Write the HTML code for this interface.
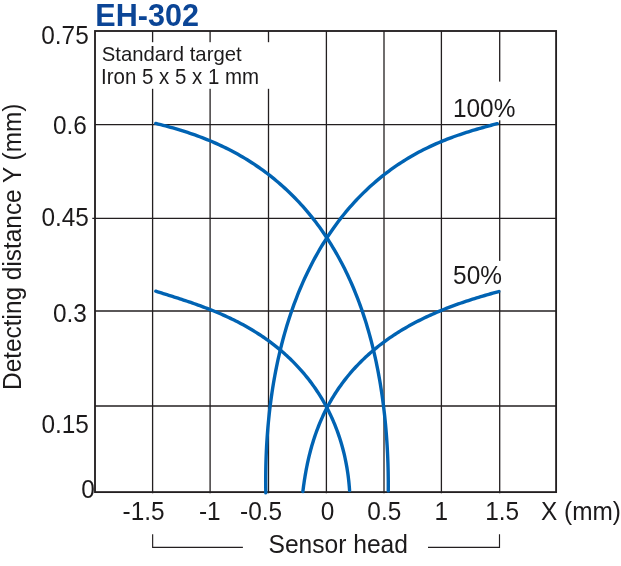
<!DOCTYPE html>
<html><head><meta charset="utf-8"><title>EH-302 detecting range</title>
<style>html,body{margin:0;padding:0;background:#fff;overflow:hidden;}svg{display:block;}</style>
</head><body>
<svg width="621" height="566" viewBox="0 0 621 566"><g stroke="#231f20" stroke-width="1.3"><line x1="152.6" y1="31.0" x2="152.6" y2="493.3"/><line x1="210.1" y1="31.0" x2="210.1" y2="493.3"/><line x1="268.5" y1="31.0" x2="268.5" y2="493.3"/><line x1="326.4" y1="31.0" x2="326.4" y2="493.3"/><line x1="384.0" y1="31.0" x2="384.0" y2="493.3"/><line x1="441.4" y1="31.0" x2="441.4" y2="493.3"/><line x1="499.7" y1="31.0" x2="499.7" y2="493.3"/><line x1="95.0" y1="124.6" x2="556.1" y2="124.6"/><line x1="92.3" y1="218.35" x2="556.1" y2="218.35"/><line x1="95.0" y1="311.0" x2="556.1" y2="311.0"/><line x1="95.0" y1="406.0" x2="556.1" y2="406.0"/></g><g fill="#fff"><rect x="97" y="42.2" width="174" height="46.6"/><rect x="496" y="81.6" width="8" height="38.7"/><rect x="496" y="260.9" width="8" height="29.5"/></g><rect x="95.0" y="31.0" width="461.10" height="461.10" fill="none" stroke="#231f20" stroke-width="1.85"/><path d="M155.78,123.47 L158.24,124.07 L160.70,124.68 L163.16,125.31 L165.61,125.95 L168.06,126.61 L170.51,127.28 L172.96,127.97 L175.41,128.67 L177.85,129.39 L180.30,130.13 L182.74,130.88 L185.18,131.66 L187.61,132.45 L190.05,133.27 L192.48,134.10 L194.91,134.95 L197.34,135.83 L199.76,136.73 L202.18,137.65 L204.60,138.59 L207.01,139.55 L209.42,140.54 L211.83,141.55 L214.23,142.59 L216.63,143.65 L219.02,144.74 L221.41,145.85 L223.80,146.98 L226.17,148.14 L228.54,149.33 L230.91,150.55 L233.26,151.79 L235.62,153.06 L237.96,154.35 L240.29,155.68 L242.62,157.03 L244.94,158.41 L247.25,159.81 L249.55,161.25 L251.84,162.71 L254.11,164.20 L256.38,165.72 L258.64,167.27 L260.89,168.85 L263.12,170.46 L265.35,172.09 L267.56,173.76 L269.75,175.45 L271.94,177.17 L274.11,178.92 L276.26,180.70 L278.40,182.51 L280.53,184.35 L282.64,186.22 L284.74,188.12 L286.82,190.04 L288.88,191.99 L290.93,193.98 L292.96,195.99 L294.97,198.03 L296.97,200.10 L298.95,202.20 L300.90,204.32 L302.85,206.47 L304.77,208.66 L306.67,210.87 L308.56,213.10 L310.42,215.37 L312.27,217.66 L314.09,219.98 L315.90,222.33 L317.68,224.70 L319.45,227.10 L321.19,229.53 L322.91,231.99 L324.62,234.47 L326.30,236.98 L327.95,239.51 L329.59,242.07 L331.21,244.66 L332.80,247.27 L334.37,249.91 L335.93,252.58 L337.45,255.27 L338.96,257.98 L340.44,260.72 L341.91,263.49 L343.35,266.28 L344.76,269.10 L346.16,271.94 L347.53,274.81 L348.88,277.70 L350.21,280.62 L351.51,283.56 L352.80,286.53 L354.06,289.52 L355.29,292.54 L356.51,295.58 L357.70,298.65 L358.87,301.74 L360.02,304.86 L361.15,308.01 L362.25,311.18 L363.33,314.37 L364.39,317.60 L365.43,320.84 L366.45,324.12 L367.44,327.42 L368.41,330.75 L369.36,334.10 L370.29,337.48 L371.19,340.89 L372.08,344.33 L372.94,347.80 L373.78,351.29 L374.59,354.81 L375.39,358.37 L376.16,361.95 L376.91,365.56 L377.64,369.20 L378.35,372.88 L379.03,376.58 L379.69,380.32 L380.33,384.09 L380.95,387.90 L381.54,391.73 L382.11,395.60 L382.66,399.51 L383.19,403.45 L383.69,407.43 L384.16,411.45 L384.62,415.50 L385.05,419.59 L385.45,423.72 L385.83,427.89 L386.18,432.10 L386.51,436.35 L386.81,440.65 L387.09,444.99 L387.34,449.37 L387.56,453.79 L387.75,458.27 L387.92,462.78 L388.05,467.35 L388.16,471.96 L388.23,476.63 L388.28,481.34 L388.29,486.10 L388.27,490.92" fill="none" stroke="#0063b3" stroke-width="3.4" stroke-linecap="round" stroke-linejoin="round"/><path d="M497.26,123.65 L495.25,124.18 L493.23,124.72 L491.21,125.26 L489.17,125.81 L487.14,126.36 L485.09,126.92 L483.04,127.49 L480.99,128.07 L478.92,128.65 L476.85,129.25 L474.77,129.86 L472.69,130.49 L470.60,131.12 L468.50,131.77 L466.40,132.44 L464.29,133.12 L462.17,133.81 L460.05,134.52 L457.92,135.26 L455.78,136.00 L453.64,136.77 L451.50,137.56 L449.35,138.37 L447.19,139.20 L445.04,140.05 L442.87,140.92 L440.71,141.81 L438.54,142.73 L436.36,143.67 L434.19,144.64 L432.01,145.63 L429.83,146.64 L427.65,147.69 L425.47,148.75 L423.28,149.85 L421.10,150.97 L418.92,152.12 L416.73,153.30 L414.55,154.50 L412.37,155.74 L410.19,157.00 L408.02,158.29 L405.84,159.61 L403.67,160.97 L401.51,162.35 L399.35,163.76 L397.19,165.20 L395.04,166.68 L392.89,168.18 L390.75,169.72 L388.61,171.29 L386.49,172.89 L384.37,174.52 L382.26,176.18 L380.15,177.87 L378.06,179.60 L375.97,181.36 L373.90,183.16 L371.83,184.98 L369.78,186.84 L367.74,188.73 L365.70,190.65 L363.68,192.61 L361.67,194.60 L359.68,196.62 L357.70,198.67 L355.73,200.76 L353.77,202.88 L351.83,205.04 L349.90,207.22 L347.99,209.44 L346.09,211.70 L344.21,213.98 L342.35,216.30 L340.50,218.66 L338.67,221.04 L336.85,223.46 L335.05,225.91 L333.27,228.40 L331.51,230.92 L329.76,233.47 L328.04,236.05 L326.33,238.67 L324.64,241.32 L322.97,244.00 L321.32,246.72 L319.69,249.47 L318.08,252.25 L316.48,255.07 L314.91,257.92 L313.36,260.80 L311.83,263.72 L310.32,266.67 L308.83,269.65 L307.36,272.66 L305.92,275.71 L304.49,278.80 L303.09,281.92 L301.71,285.07 L300.35,288.25 L299.01,291.47 L297.70,294.73 L296.41,298.02 L295.14,301.34 L293.89,304.70 L292.67,308.09 L291.47,311.52 L290.30,314.99 L289.14,318.49 L288.02,322.03 L286.91,325.60 L285.83,329.21 L284.78,332.86 L283.75,336.54 L282.74,340.26 L281.76,344.02 L280.80,347.82 L279.87,351.66 L278.97,355.54 L278.09,359.46 L277.24,363.41 L276.42,367.41 L275.62,371.45 L274.85,375.53 L274.10,379.65 L273.39,383.82 L272.70,388.03 L272.05,392.28 L271.42,396.58 L270.82,400.92 L270.25,405.31 L269.71,409.74 L269.20,414.22 L268.73,418.75 L268.28,423.32 L267.87,427.95 L267.50,432.62 L267.15,437.35 L266.84,442.12 L266.57,446.95 L266.33,451.83 L266.13,456.76 L265.96,461.75 L265.84,466.79 L265.75,471.89 L265.70,477.04 L265.69,482.25 L265.73,487.52 L265.81,492.85" fill="none" stroke="#0063b3" stroke-width="3.4" stroke-linecap="round" stroke-linejoin="round"/><path d="M155.79,291.24 L157.66,291.82 L159.52,292.40 L161.38,292.98 L163.24,293.56 L165.09,294.14 L166.94,294.72 L168.79,295.30 L170.63,295.89 L172.47,296.47 L174.31,297.05 L176.15,297.64 L177.99,298.23 L179.83,298.83 L181.66,299.43 L183.49,300.03 L185.32,300.63 L187.15,301.25 L188.98,301.86 L190.80,302.48 L192.63,303.11 L194.45,303.75 L196.27,304.39 L198.09,305.04 L199.91,305.70 L201.72,306.36 L203.54,307.04 L205.35,307.72 L207.16,308.41 L208.97,309.11 L210.77,309.82 L212.58,310.54 L214.38,311.27 L216.18,312.01 L217.98,312.77 L219.77,313.53 L221.56,314.31 L223.35,315.10 L225.14,315.90 L226.92,316.71 L228.70,317.53 L230.47,318.37 L232.24,319.22 L234.01,320.09 L235.77,320.96 L237.53,321.86 L239.28,322.76 L241.03,323.68 L242.77,324.62 L244.51,325.57 L246.24,326.53 L247.96,327.51 L249.68,328.51 L251.39,329.52 L253.10,330.54 L254.80,331.58 L256.49,332.64 L258.17,333.71 L259.85,334.80 L261.52,335.90 L263.17,337.02 L264.83,338.16 L266.47,339.31 L268.10,340.48 L269.72,341.67 L271.33,342.87 L272.94,344.09 L274.53,345.32 L276.11,346.57 L277.68,347.84 L279.24,349.12 L280.79,350.42 L282.33,351.74 L283.85,353.07 L285.37,354.42 L286.86,355.79 L288.35,357.17 L289.83,358.57 L291.29,359.98 L292.73,361.41 L294.17,362.86 L295.58,364.32 L296.99,365.80 L298.38,367.29 L299.75,368.80 L301.11,370.32 L302.46,371.86 L303.78,373.41 L305.10,374.98 L306.39,376.57 L307.67,378.16 L308.94,379.78 L310.18,381.40 L311.41,383.05 L312.62,384.70 L313.82,386.37 L315.00,388.05 L316.16,389.75 L317.30,391.46 L318.42,393.18 L319.53,394.92 L320.61,396.66 L321.68,398.42 L322.73,400.19 L323.76,401.98 L324.77,403.77 L325.76,405.58 L326.74,407.40 L327.69,409.23 L328.62,411.07 L329.54,412.92 L330.43,414.78 L331.30,416.65 L332.16,418.53 L332.99,420.42 L333.81,422.31 L334.60,424.22 L335.37,426.14 L336.13,428.06 L336.86,429.99 L337.57,431.93 L338.27,433.88 L338.94,435.84 L339.59,437.80 L340.22,439.77 L340.84,441.74 L341.43,443.72 L342.00,445.71 L342.55,447.71 L343.08,449.71 L343.59,451.71 L344.08,453.72 L344.55,455.73 L345.00,457.75 L345.43,459.78 L345.84,461.80 L346.23,463.83 L346.60,465.87 L346.96,467.91 L347.29,469.95 L347.60,471.99 L347.90,474.04 L348.17,476.09 L348.43,478.14 L348.67,480.19 L348.89,482.25 L349.09,484.31 L349.27,486.36 L349.43,488.42 L349.58,490.49" fill="none" stroke="#0063b3" stroke-width="3.4" stroke-linecap="round" stroke-linejoin="round"/><path d="M498.83,291.52 L496.83,292.07 L494.82,292.63 L492.81,293.19 L490.79,293.76 L488.77,294.33 L486.75,294.91 L484.73,295.50 L482.70,296.10 L480.67,296.71 L478.64,297.32 L476.61,297.94 L474.58,298.57 L472.55,299.21 L470.51,299.86 L468.48,300.52 L466.45,301.19 L464.42,301.87 L462.40,302.55 L460.37,303.25 L458.35,303.96 L456.33,304.68 L454.31,305.41 L452.30,306.16 L450.29,306.91 L448.28,307.68 L446.28,308.45 L444.28,309.24 L442.29,310.04 L440.31,310.85 L438.33,311.68 L436.35,312.52 L434.39,313.37 L432.43,314.23 L430.47,315.11 L428.53,315.99 L426.59,316.89 L424.66,317.81 L422.74,318.73 L420.83,319.68 L418.93,320.63 L417.04,321.60 L415.15,322.58 L413.28,323.57 L411.42,324.58 L409.57,325.60 L407.72,326.63 L405.89,327.68 L404.08,328.74 L402.27,329.81 L400.47,330.90 L398.69,332.00 L396.92,333.12 L395.16,334.25 L393.42,335.39 L391.69,336.55 L389.97,337.71 L388.27,338.90 L386.58,340.09 L384.90,341.30 L383.24,342.53 L381.59,343.77 L379.96,345.02 L378.34,346.28 L376.74,347.56 L375.15,348.85 L373.58,350.15 L372.02,351.47 L370.48,352.80 L368.96,354.14 L367.45,355.49 L365.96,356.86 L364.49,358.24 L363.03,359.63 L361.59,361.04 L360.16,362.46 L358.76,363.89 L357.37,365.33 L355.99,366.78 L354.64,368.25 L353.30,369.73 L351.98,371.22 L350.68,372.72 L349.39,374.23 L348.13,375.75 L346.88,377.29 L345.65,378.83 L344.44,380.39 L343.24,381.96 L342.07,383.54 L340.91,385.13 L339.77,386.72 L338.65,388.33 L337.55,389.95 L336.46,391.58 L335.40,393.22 L334.35,394.87 L333.32,396.53 L332.31,398.20 L331.32,399.87 L330.34,401.56 L329.39,403.25 L328.45,404.95 L327.53,406.67 L326.63,408.38 L325.75,410.11 L324.88,411.85 L324.03,413.59 L323.21,415.34 L322.40,417.10 L321.60,418.87 L320.83,420.64 L320.07,422.42 L319.33,424.20 L318.61,426.00 L317.90,427.80 L317.21,429.60 L316.54,431.41 L315.89,433.23 L315.25,435.05 L314.63,436.88 L314.02,438.72 L313.43,440.55 L312.86,442.40 L312.30,444.25 L311.76,446.10 L311.24,447.96 L310.73,449.82 L310.23,451.69 L309.75,453.56 L309.29,455.43 L308.83,457.31 L308.40,459.19 L307.97,461.07 L307.56,462.96 L307.17,464.85 L306.78,466.74 L306.41,468.64 L306.05,470.54 L305.71,472.44 L305.37,474.34 L305.05,476.25 L304.74,478.15 L304.44,480.06 L304.15,481.97 L303.87,483.89 L303.60,485.80 L303.35,487.71 L303.10,489.63 L302.86,491.54" fill="none" stroke="#0063b3" stroke-width="3.4" stroke-linecap="round" stroke-linejoin="round"/><g font-family="'Liberation Sans', Arial, Helvetica, sans-serif"><text transform="matrix(1,0,0,1.045,95.36,25.95)" font-size="30.55" font-weight="bold" fill="#0b4596">EH-302</text><text transform="matrix(1,0,0,1.03,41.25,43.70)" font-size="24.4" fill="#1c1a1b">0.75</text><text transform="matrix(1,0,0,1.03,52.95,133.70)" font-size="24.4" fill="#1c1a1b">0.6</text><text transform="matrix(1,0,0,1.03,41.45,226.30)" font-size="24.4" fill="#1c1a1b">0.45</text><text transform="matrix(1,0,0,1.03,52.90,322.00)" font-size="24.4" fill="#1c1a1b">0.3</text><text transform="matrix(1,0,0,1.03,41.45,433.20)" font-size="24.4" fill="#1c1a1b">0.15</text><text transform="matrix(1,0,0,1.03,81.25,497.80)" font-size="24.4" fill="#1c1a1b">0</text><text transform="matrix(1,0,0,1.03,122.52,520.00)" font-size="24.4" fill="#1c1a1b">-1.5</text><text transform="matrix(1,0,0,1.03,198.92,520.00)" font-size="24.4" fill="#1c1a1b">-1</text><text transform="matrix(1,0,0,1.03,240.12,520.00)" font-size="24.4" fill="#1c1a1b">-0.5</text><text transform="matrix(1,0,0,1.03,320.85,520.00)" font-size="24.4" fill="#1c1a1b">0</text><text transform="matrix(1,0,0,1.03,367.35,520.00)" font-size="24.4" fill="#1c1a1b">0.5</text><text transform="matrix(1,0,0,1.03,434.41,520.00)" font-size="24.4" fill="#1c1a1b">1</text><text transform="matrix(1,0,0,1.03,485.21,520.00)" font-size="24.4" fill="#1c1a1b">1.5</text><text transform="matrix(1,0,0,1.03,541.05,520.00)" font-size="24.4" fill="#1c1a1b">X (mm)</text><text transform="matrix(1,0,0,1.03,268.48,553.00)" font-size="24.6" fill="#1c1a1b">Sensor head</text><text transform="matrix(1,0,0,1.04,101.78,60.90)" font-size="20.3" fill="#1c1a1b">Standard target</text><text transform="matrix(1,0,0,1.04,101.11,83.60)" font-size="20.45" fill="#1c1a1b">Iron 5 x 5 x 1 mm</text><text transform="matrix(1,0,0,1.03,452.96,116.90)" font-size="24.4" fill="#1c1a1b">100%</text><text transform="matrix(1,0,0,1.03,453.12,284.00)" font-size="24.4" fill="#1c1a1b">50%</text><text transform="translate(20.8,389.90) rotate(-90) scale(1,1.02)" font-size="24.39" fill="#1c1a1b">Detecting distance Y (mm)</text></g><path d="M152.65,534.2 V547.3 H242.9 M428,547.3 H499.5 V534.2" fill="none" stroke="#231f20" stroke-width="1.15"/></svg>
</body></html>
